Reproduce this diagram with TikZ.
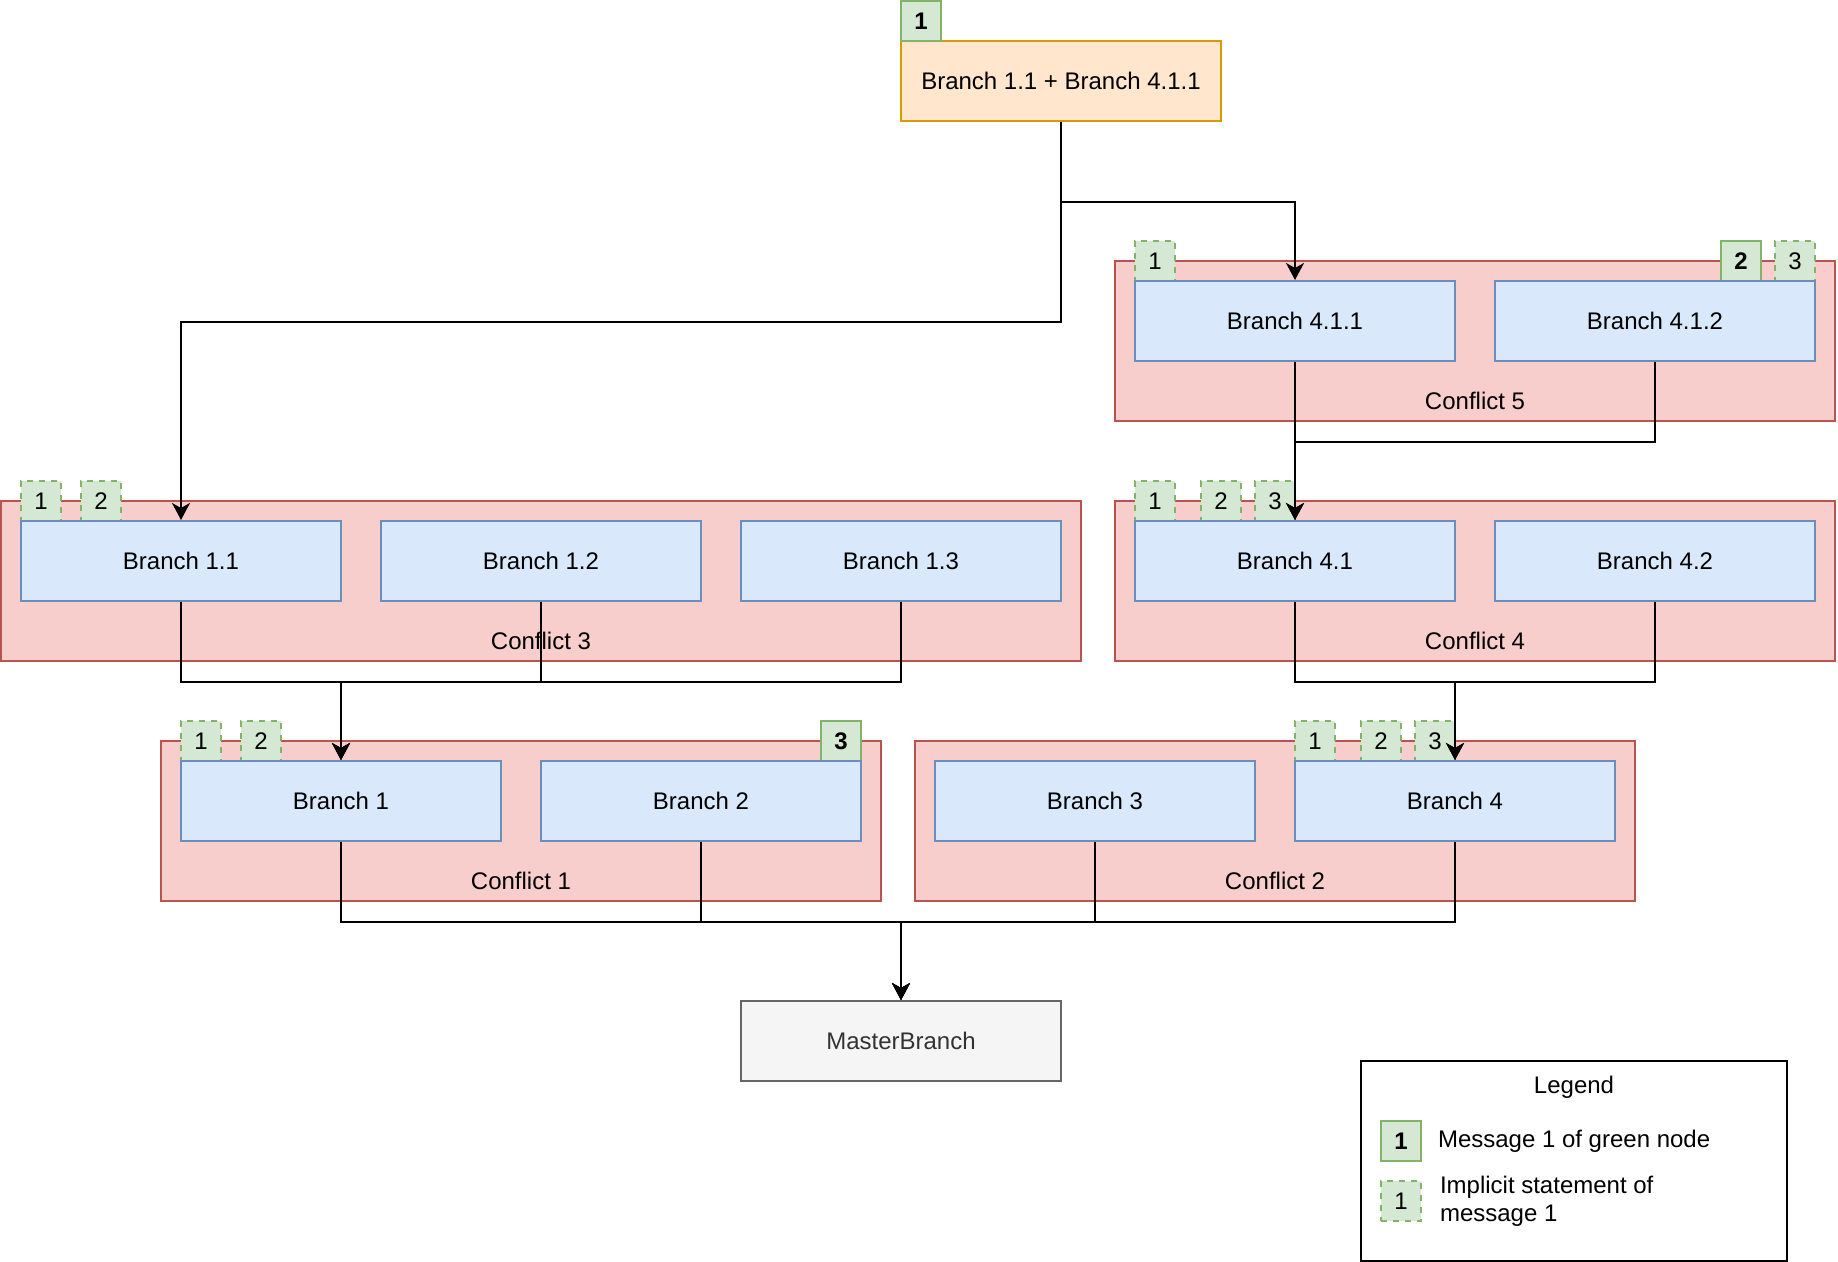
\documentclass[tikz,border=0pt]{standalone}
\usepackage{fontspec}
\setmainfont{Liberation Sans}
\usetikzlibrary{arrows.meta}

\definecolor{branchfill}{HTML}{DAE8FC}
\definecolor{branchline}{HTML}{6C8EBF}
\definecolor{conflictfill}{HTML}{F8CECC}
\definecolor{conflictline}{HTML}{B85450}
\definecolor{msgfill}{HTML}{D5E8D4}
\definecolor{msgline}{HTML}{82B366}
\definecolor{mergefill}{HTML}{FFE6CC}
\definecolor{mergeline}{HTML}{D79B00}
\definecolor{masterfill}{HTML}{F5F5F5}
\definecolor{masterline}{HTML}{666666}
\definecolor{mastertext}{HTML}{333333}

\begin{document}
\begin{tikzpicture}[x=1pt, y=-1pt, line width=1pt, font=\fontsize{12}{14}\selectfont,
    conflict/.style={draw=conflictline, fill=conflictfill, minimum width=360pt, minimum height=80pt, inner sep=0pt},
    branch/.style={draw=branchline, fill=branchfill, minimum width=160pt, minimum height=40pt, inner sep=0pt},
    msg/.style={draw=msgline, fill=msgfill, minimum size=20pt, inner sep=0pt, font=\fontsize{12}{14}\selectfont\bfseries},
    implicit/.style={msg, dash pattern=on 3pt off 3pt, font=\fontsize{12}{14}\selectfont},
    arr/.style={-{Stealth[length=8.5pt, width=9pt, inset=2.5pt]}}]
    \useasboundingbox (-0.5,-0.5) rectangle (918.5,630.5);

    % Merged branch on top
    \node[branch, draw=mergeline, fill=mergefill] (merge) at (530,40) {Branch 1.1 + Branch 4.1.1};
    \node[msg] (mergemsg) at (460,10) {1};

    % Conflict 5
    \node[conflict] (c5) at (737,170) {};
    \node (c5text) at (737,200) {Conflict 5};
    \node[implicit] (c5m1) at (577,130) {1};
    \node[msg] (c5m2) at (870,130) {2};
    \node[implicit] (c5m3) at (897,130) {3};
    \node[branch] (b411) at (647,160) {Branch 4.1.1};
    \node[branch] (b412) at (827,160) {Branch 4.1.2};

    % Conflict 4
    \node[conflict] (c4) at (737,290) {};
    \node (c4text) at (737,320) {Conflict 4};
    \node[implicit] (c4m1) at (577,250) {1};
    \node[implicit] (c4m2) at (610,250) {2};
    \node[implicit] (c4m3) at (637,250) {3};
    \node[branch] (b41) at (647,280) {Branch 4.1};
    \node[branch] (b42) at (827,280) {Branch 4.2};

    % Conflict 3
    \node[conflict, minimum width=540pt] (c3) at (270,290) {};
    \node (c3text) at (270,320) {Conflict 3};
    \node[implicit] (c3m1) at (20,250) {1};
    \node[implicit] (c3m2) at (50,250) {2};
    \node[branch] (b11) at (90,280) {Branch 1.1};
    \node[branch] (b12) at (270,280) {Branch 1.2};
    \node[branch] (b13) at (450,280) {Branch 1.3};

    % Conflict 1
    \node[conflict] (c1) at (260,410) {};
    \node (c1text) at (260,440) {Conflict 1};
    \node[implicit] (c1m1) at (100,370) {1};
    \node[implicit] (c1m2) at (130,370) {2};
    \node[msg] (c1m3) at (420,370) {3};
    \node[branch] (b1) at (170,400) {Branch 1};
    \node[branch] (b2) at (350,400) {Branch 2};

    % Conflict 2
    \node[conflict] (c2) at (637,410) {};
    \node (c2text) at (637,440) {Conflict 2};
    \node[implicit] (c2m1) at (657,370) {1};
    \node[implicit] (c2m2) at (690,370) {2};
    \node[implicit] (c2m3) at (717,370) {3};
    \node[branch] (b3) at (547,400) {Branch 3};
    \node[branch] (b4) at (727,400) {Branch 4};

    % Master branch
    \node[branch, draw=masterline, fill=masterfill, text=mastertext] (master) at (450,520) {MasterBranch};

    % Legend
    \node[draw, minimum width=213pt, minimum height=100pt, inner sep=0pt] (legend) at (786.5,580) {};
    \node (legendtitle) at (786.5,543) {Legend};
    \node[msg] (legendmsg) at (700,570) {1};
    \node[anchor=west, inner sep=0pt] (legendmsgtext) at (718,570) {Message 1 of green node};
    \node[implicit] (legendimp) at (700,600) {1};
    \node[anchor=west, align=left, inner sep=0pt] (legendimptext) at (719,600) {Implicit statement of\\message 1};

    % Merges
    \draw[arr] (merge.south) -- ++(0,40) -| (b411.north);
    \draw[arr] (merge.south) -- ++(0,100) -| (b11.north);
    \draw[arr] (b411.south) -- (b41.north);
    \draw[arr] (b412.south) -- ++(0,40) -| (b41.north);
    \draw[arr] (b11.south) -- ++(0,40) -| (b1.north);
    \draw[arr] (b12.south) -- ++(0,40) -| (b1.north);
    \draw[arr] (b13.south) -- ++(0,40) -| (b1.north);
    \draw[arr] (b41.south) -- ++(0,40) -| (b4.north);
    \draw[arr] (b42.south) -- ++(0,40) -| (b4.north);
    \draw[arr] (b1.south) -- ++(0,40) -| (master.north);
    \draw[arr] (b2.south) -- ++(0,40) -| (master.north);
    \draw[arr] (b3.south) -- ++(0,40) -| (master.north);
    \draw[arr] (b4.south) -- ++(0,40) -| (master.north);
\end{tikzpicture}
\end{document}
